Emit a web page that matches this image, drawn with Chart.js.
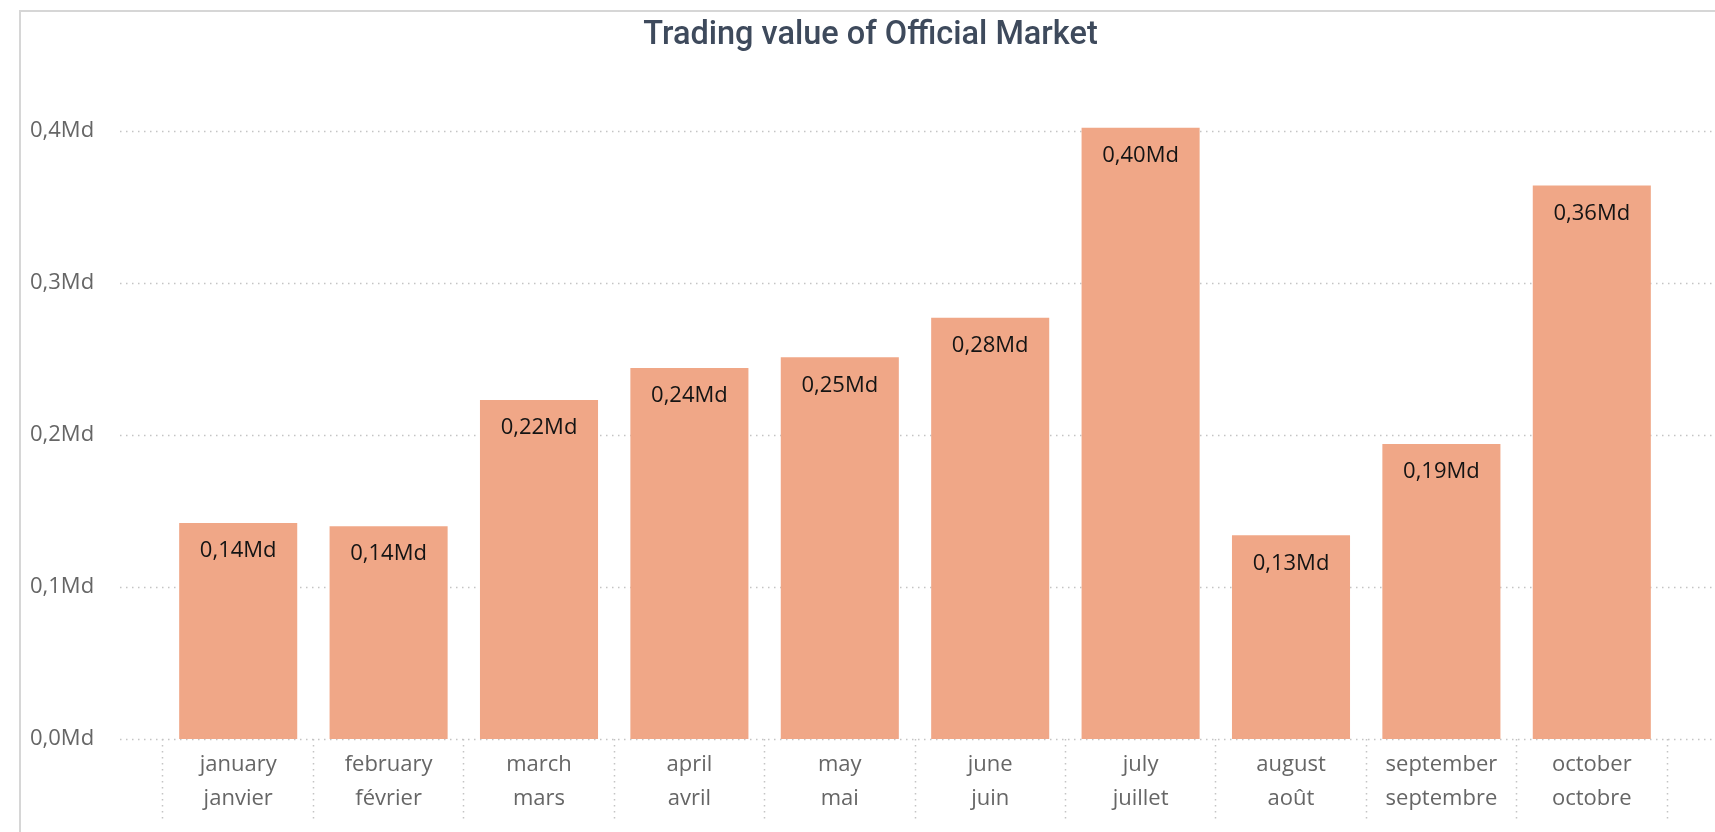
<!DOCTYPE html>
<html>
<head>
<meta charset="utf-8">
<script src="https://cdn.jsdelivr.net/npm/chart.js@4.4.1/dist/chart.umd.min.js"></script>
<style>
  html, body { margin: 0; padding: 0; background: #fff; overflow: hidden; }
  #frame { position: absolute; left: 19px; top: 10px; width: 1720px; height: 840px;
           border-left: 2px solid #d6d6d6; border-top: 2px solid #d6d6d6; }
  canvas { position: absolute; left: 0; top: 0; }
</style>
</head>
<body>
<div id="frame"></div>
<canvas id="chart" width="1715" height="832"></canvas>
<script>
// data
const monthsEn = ["january", "february", "march", "april", "may", "june", "july", "august", "september", "october"];
const monthsFr = ["janvier", "février", "mars", "avril", "mai", "juin", "juillet", "août", "septembre", "octobre"];
const tradingValue = [0.142, 0.140, 0.223, 0.244, 0.251, 0.277, 0.402, 0.134, 0.194, 0.364];
const yTicks = [0, 0.1, 0.2, 0.3, 0.4];

const fmt = (v, d) => v.toFixed(d).replace(".", ",") + "Md";

// dotted horizontal lines run past the plot area, like the original
const hGrid = {
  id: "hGrid",
  afterLayout(chart) {
    // title sits centred on the whole frame, not the plot
    chart.titleBlock.left += 22;
    chart.titleBlock.right += 22;
  },
  beforeDatasetsDraw(chart) {
    const ctx = chart.ctx;
    const y = chart.scales.y;
    ctx.save();
    ctx.strokeStyle = "#c4c4c4";
    ctx.lineWidth = 1.5;
    ctx.setLineDash([1.5, 4.5]);
    yTicks.forEach(v => {
      const py = Math.round(y.getPixelForValue(v)) + 0.5;
      ctx.beginPath();
      ctx.moveTo(120, py);
      ctx.lineTo(chart.width, py);
      ctx.stroke();
    });
    ctx.restore();
  }
};

const barLabels = {
  id: "barLabels",
  afterDatasetsDraw(chart) {
    const ctx = chart.ctx;
    const meta = chart.getDatasetMeta(0);
    ctx.save();
    ctx.font = "22px 'Open Sans'";
    ctx.fillStyle = "#141414";
    ctx.textAlign = "center";
    ctx.textBaseline = "middle";
    meta.data.forEach((bar, i) => {
      ctx.fillText(fmt(tradingValue[i], 2), bar.x, bar.y + 28);
    });
    ctx.restore();
  }
};

new Chart(document.getElementById("chart"), {
  type: "bar",
  data: {
    labels: monthsEn.map((m, i) => [m, monthsFr[i]]),
    datasets: [{
      label: "Trading value",
      data: tradingValue,
      backgroundColor: "#f0a787",
      categoryPercentage: 1,
      barPercentage: 0.785
    }]
  },
  options: {
    responsive: false,
    animation: false,
    layout: { padding: { left: 30, right: 48, top: 0, bottom: 0 } },
    plugins: {
      legend: { display: false },
      tooltip: { enabled: false },
      title: {
        display: true,
        text: "Trading value of Official Market",
        color: "#3e4a5c",
        font: { family: "Roboto", size: 32.5, weight: "500", lineHeight: 1.2 },
        padding: { top: 16, bottom: 15 }
      }
    },
    scales: {
      x: {
        border: { display: false },
        grid: {
          drawOnChartArea: false,
          drawTicks: true,
          tickLength: 80,
          color: "#c4c4c4",
          tickWidth: 1.5,
          tickBorderDash: [1.5, 4.5]
        },
        ticks: {
          color: "#666666",
          padding: -71,
          font: { family: "Open Sans", size: 22, lineHeight: 1.55 },
          maxRotation: 0
        },
        afterFit(scale) { scale.height = 93; }
      },
      y: {
        min: 0,
        max: 0.44,
        border: { display: false },
        grid: { display: false, drawTicks: false },
        afterBuildTicks(scale) { scale.ticks = yTicks.map(v => ({ value: v })); },
        ticks: {
          color: "#666666",
          padding: 0,
          crossAlign: "far",
          font: { family: "Open Sans", size: 22 },
          callback: v => fmt(v, 1)
        },
        afterFit(scale) { scale.width = 133; }
      }
    }
  },
  plugins: [hGrid, barLabels]
});
</script>
</body>
</html>
